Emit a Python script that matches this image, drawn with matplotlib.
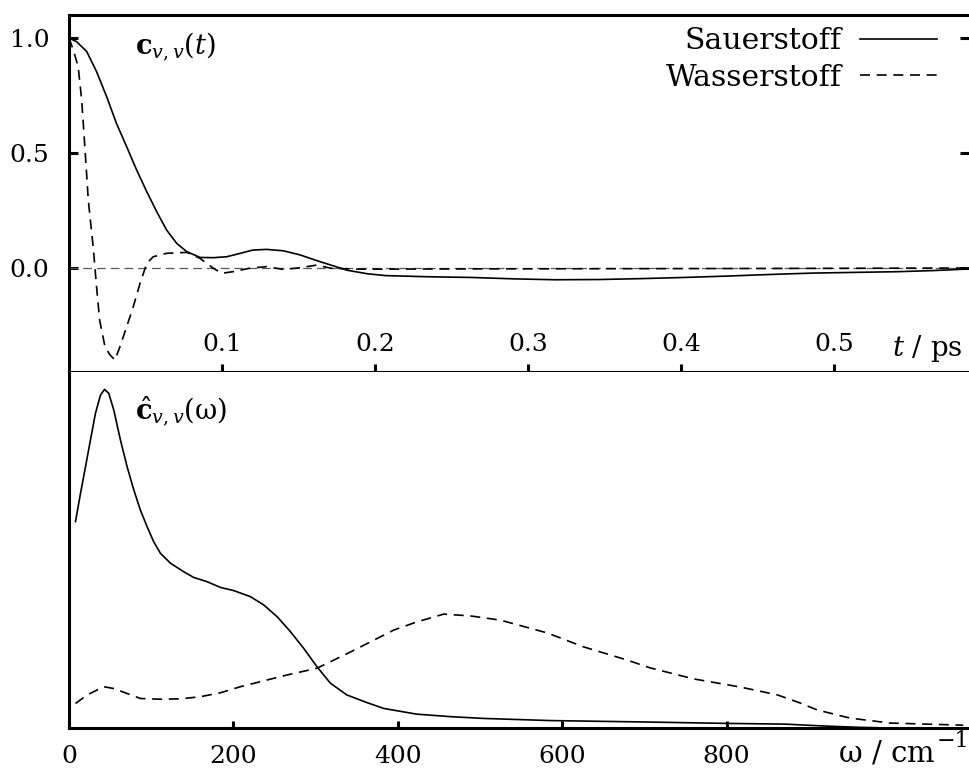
import matplotlib
matplotlib.use('Agg')
import matplotlib.pyplot as plt

plt.rcParams['font.family'] = 'DejaVu Serif'
plt.rcParams['mathtext.fontset'] = 'dejavuserif'
plt.rcParams['font.size'] = 18

# velocity autocorrelation, time domain (t in ps)
t_o = [0.000, 0.005, 0.0116, 0.018, 0.0246, 0.031, 0.0377, 0.0442, 0.0508,
       0.0573, 0.0638, 0.0704, 0.077, 0.0856, 0.0943, 0.103, 0.112, 0.120,
       0.129, 0.140, 0.151, 0.162, 0.171, 0.182, 0.195, 0.207, 0.235, 0.263,
       0.290, 0.318, 0.346, 0.374, 0.402, 0.430, 0.458, 0.486, 0.513, 0.541,
       0.565, 0.588]
c_o = [1.000, 0.984, 0.941, 0.854, 0.745, 0.629, 0.527, 0.426, 0.332,
       0.245, 0.165, 0.107, 0.071, 0.046, 0.045, 0.049, 0.064, 0.078,
       0.081, 0.075, 0.057, 0.032, 0.013, -0.010, -0.025, -0.033, -0.038, -0.041,
       -0.047, -0.051, -0.050, -0.046, -0.041, -0.035, -0.028, -0.022, -0.019, -0.016,
       -0.011, -0.004]

t_h = [0.000, 0.0028, 0.006, 0.0083, 0.0105, 0.0126, 0.016, 0.018, 0.020,
       0.0235, 0.0268, 0.030, 0.0333, 0.0377, 0.042, 0.0464, 0.0508, 0.055,
       0.0638, 0.077, 0.0856, 0.0943, 0.0998, 0.107, 0.118, 0.129, 0.140,
       0.151, 0.162, 0.171, 0.190, 0.250, 0.350, 0.450, 0.588]
c_h = [1.000, 0.948, 0.875, 0.730, 0.513, 0.296, 0.078, -0.081, -0.226,
       -0.342, -0.378, -0.400, -0.342, -0.255, -0.168, -0.067, 0.020, 0.049,
       0.064, 0.068, 0.042, -0.001, -0.023, -0.016, -0.001, 0.006, -0.006,
       0.001, 0.013, -0.001, -0.005, -0.004, -0.003, -0.002, 0.000]

# spectra (omega in cm^-1, arbitrary units)
w_o = [7.9, 14.0, 20.1, 26.1, 32.2, 38.3, 43.2, 48.4, 54.5, 62.6, 70.7, 78.8,
       86.9, 95.1, 103.1, 111.2, 123.4, 139.6, 151.7, 168.0, 184.2, 200.4,
       220.7, 236.8, 253.1, 269.3, 285.5, 301.8, 318, 338, 363, 383, 423,
       464, 504, 585, 700, 800, 871, 916, 960, 1000, 1095]
s_o = [0.580, 0.659, 0.734, 0.809, 0.884, 0.935, 0.951, 0.940, 0.893, 0.809,
       0.734, 0.669, 0.612, 0.565, 0.523, 0.491, 0.463, 0.439, 0.423, 0.411,
       0.395, 0.386, 0.369, 0.346, 0.313, 0.271, 0.224, 0.172, 0.126, 0.093,
       0.071, 0.055, 0.039, 0.032, 0.027, 0.021, 0.017, 0.013, 0.011, 0.006,
       0.002, 0.000, 0.000]

w_h = [7.9, 22.1, 42.3, 54.5, 70.7, 86.9, 111.2, 135.6, 159.9, 184.2, 208.5,
       241, 265.3, 301.8, 342, 395, 423, 456, 488, 525, 582, 626, 679, 707,
       760, 817, 862, 890, 910, 950, 999, 1088]
s_h = [0.069, 0.093, 0.116, 0.111, 0.097, 0.083, 0.081, 0.082, 0.088, 0.099,
       0.116, 0.135, 0.149, 0.168, 0.213, 0.275, 0.298, 0.320, 0.315, 0.303,
       0.267, 0.228, 0.191, 0.169, 0.138, 0.115, 0.093, 0.070, 0.051, 0.028,
       0.014, 0.008]

t_ticks = [0.1, 0.2, 0.3, 0.4, 0.5]
c_ticks = [0.0, 0.5, 1.0]
w_ticks = [0, 200, 400, 600, 800]

dash = (0, (6, 4))
spine_lw = 2.2

fig = plt.figure(figsize=(9.69, 7.70), dpi=100)
ax_t = fig.add_axes([0.0712, 0.5169, 0.9288, 0.4636])
ax_w = fig.add_axes([0.0712, 0.0545, 0.9288, 0.4624])

# --- time domain ---
ax_t.axhline(0, color='0.35', lw=0.9, ls=(0, (7, 4)))
ax_t.plot(t_o, c_o, color='black', lw=1.2, label='Sauerstoff')
ax_t.plot(t_h, c_h, color='black', lw=1.2, ls=dash, label='Wasserstoff')
ax_t.set_xlim(0, 0.588)
ax_t.set_ylim(-0.452, 1.1)

for side in ['top', 'left', 'bottom']:
    ax_t.spines[side].set_linewidth(spine_lw)
ax_t.spines['right'].set_visible(False)

ax_t.set_yticks(c_ticks)
ax_t.set_yticklabels(['%.1f' % v for v in c_ticks])
ax_t.tick_params(axis='y', direction='in', length=6.5, width=spine_lw,
                 right=True, pad=14)
ax_t.set_xticks(t_ticks)
ax_t.tick_params(axis='x', direction='inout', length=11, width=spine_lw,
                 labelbottom=False)
for v in t_ticks:
    ax_t.text(v, 0.076, '%.1f' % v, transform=ax_t.get_xaxis_transform(),
              ha='center', va='center')
ax_t.text(0.9935, 0.066, r'$t$ / ps', transform=ax_t.transAxes,
          ha='right', va='center', fontsize=20)
ax_t.text(0.073, 0.957, r'$\mathbf{c}_{v,v}(t)$', transform=ax_t.transAxes,
          ha='left', va='top', fontsize=19.5)

ax_t.legend(loc='upper right', bbox_to_anchor=(0.978, 1.0), frameon=False,
            markerfirst=False, fontsize=21.5, handlelength=2.6,
            handletextpad=0.6, borderaxespad=0.0, labelspacing=0.3)

# --- frequency domain ---
ax_w.plot(w_o, s_o, color='black', lw=1.2)
ax_w.plot(w_h, s_h, color='black', lw=1.2, ls=dash)
ax_w.set_xlim(0, 1095)
ax_w.set_ylim(0, 1.0)

for side in ['left', 'bottom']:
    ax_w.spines[side].set_linewidth(spine_lw)
ax_w.spines['top'].set_visible(False)
ax_w.spines['right'].set_visible(False)

ax_w.set_yticks([])
ax_w.set_xticks(w_ticks)
ax_w.set_xticklabels([str(v) for v in w_ticks])
ax_w.tick_params(axis='x', direction='in', length=5, width=spine_lw, pad=12)
ax_w.text(0.962, -0.094, r'$\mathrm{\omega}$ / cm',
          transform=ax_w.transAxes, ha='right', va='baseline', fontsize=21)
ax_w.text(0.964, -0.036, '\u22121', transform=ax_w.transAxes,
          ha='left', va='center', fontsize=16)
ax_w.text(0.073, 0.935, r'$\hat{\mathbf{c}}_{v,v}(\mathrm{\omega})$',
          transform=ax_w.transAxes, ha='left', va='top', fontsize=19.5)

fig.savefig('out.png', dpi=100)
